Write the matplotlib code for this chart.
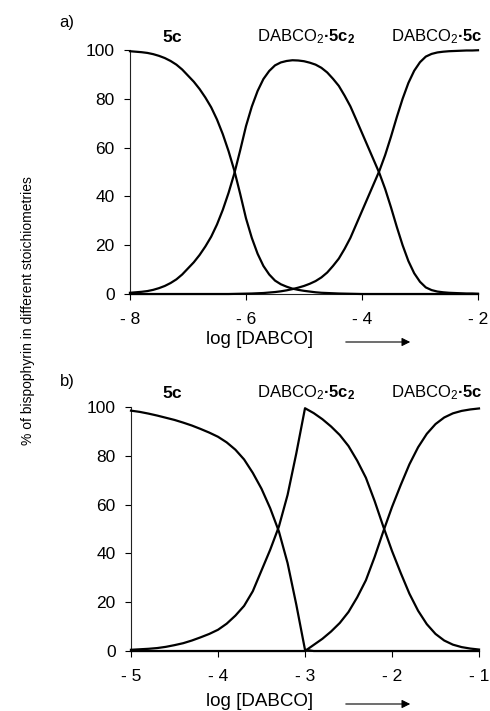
import numpy as np
import matplotlib
matplotlib.use('Agg')
import matplotlib.pyplot as plt

plt.rcParams['font.family'] = ['Liberation Sans', 'DejaVu Sans']
plt.rcParams['mathtext.fontset'] = 'custom'
plt.rcParams['mathtext.rm'] = 'Liberation Sans'
plt.rcParams['mathtext.it'] = 'Liberation Sans:italic'
plt.rcParams['mathtext.bf'] = 'Liberation Sans:bold'

# a) log[DABCO] from -8 to -2
log_a = [-8.0, -7.9, -7.8, -7.7, -7.6, -7.5, -7.4, -7.3, -7.2, -7.1,
         -7.0, -6.9, -6.8, -6.7, -6.6, -6.5, -6.4, -6.3, -6.2, -6.1,
         -6.0, -5.9, -5.8, -5.7, -5.6, -5.5, -5.4, -5.3, -5.2, -5.1,
         -5.0, -4.9, -4.8, -4.7, -4.6, -4.5, -4.4, -4.3, -4.2, -4.1,
         -4.0, -3.9, -3.8, -3.7, -3.6, -3.5, -3.4, -3.3, -3.2, -3.1,
         -3.0, -2.9, -2.8, -2.7, -2.6, -2.5, -2.4, -2.3, -2.2, -2.1, -2.0]
free_a = [99.5, 99.3, 99.1, 98.8, 98.3, 97.6, 96.7, 95.5, 94.0, 92.0,
          89.5, 87, 84, 80.5, 76.5, 71.5, 65.5, 58.5, 50.5, 41,
          31, 23, 16.5, 11.5, 8, 5.5, 4, 3, 2.2, 1.7,
          1.3, 1.0, 0.7, 0.5, 0.4, 0.3, 0.2, 0.15, 0.1, 0.05,
          0, 0, 0, 0, 0, 0, 0, 0, 0, 0,
          0, 0, 0, 0, 0, 0, 0, 0, 0, 0, 0]
dimer_a = [0.5, 0.7, 0.9, 1.2, 1.7, 2.4, 3.3, 4.5, 6.0, 8.0,
           10.5, 13, 16, 19.5, 23.5, 28.5, 34.5, 41.5, 49.5, 58.9,
           68.8, 76.8, 83.2, 88.1, 91.4, 93.7, 94.9, 95.5, 95.8, 95.7,
           95.4, 94.8, 94, 92.7, 90.8, 88.2, 85.3, 81.3, 76.9, 71.5,
           66, 60.5, 55, 49.5, 43, 35.5, 27.5, 20, 13.5, 8.5,
           5, 2.7, 1.6, 1.0, 0.7, 0.5, 0.4, 0.3, 0.2, 0.2, 0.1]
mono_a = [0, 0, 0, 0, 0, 0, 0, 0, 0, 0,
          0, 0, 0, 0, 0, 0, 0, 0, 0.05, 0.1,
          0.15, 0.2, 0.3, 0.4, 0.6, 0.8, 1.1, 1.5, 2.0, 2.6,
          3.3, 4.2, 5.3, 6.8, 8.8, 11.5, 14.5, 18.5, 23, 28.5,
          34, 39.5, 45, 50.5, 57, 64.5, 72.5, 80, 86.5, 91.5,
          95, 97.3, 98.4, 99, 99.3, 99.5, 99.6, 99.7, 99.8, 99.8, 99.9]

# b) log[DABCO] from -5 to -1
log_b = [-5.0, -4.9, -4.8, -4.7, -4.6, -4.5, -4.4, -4.3, -4.2, -4.1, -4.0,
         -3.9, -3.8, -3.7, -3.6, -3.5, -3.4, -3.3, -3.2, -3.1, -3.0,
         -2.9, -2.8, -2.7, -2.6, -2.5, -2.4, -2.3, -2.2, -2.1, -2.0,
         -1.9, -1.8, -1.7, -1.6, -1.5, -1.4, -1.3, -1.2, -1.1, -1.0]
free_b = [98.5, 98.0, 97.3, 96.5, 95.6, 94.7, 93.6, 92.4, 91, 89.5, 87.8,
          85.5, 82.5, 78.5, 73, 66.5, 58.5, 49, 36, 19, 0.5,
          0, 0, 0, 0, 0, 0, 0, 0, 0, 0,
          0, 0, 0, 0, 0, 0, 0, 0, 0, 0]
dimer_b = [0.5, 0.7, 0.9, 1.2, 1.7, 2.4, 3.2, 4.3, 5.6, 7, 8.7,
           11.2, 14.5, 18.5, 24.5, 33, 41.5, 51, 64, 81, 99.5,
           97.5, 95, 92, 88.5, 84, 78, 71, 61.5, 51, 41,
           32, 23.5, 16.5, 11, 7, 4.3, 2.6, 1.6, 1.0, 0.6]
mono_b = [0, 0, 0, 0, 0, 0, 0, 0, 0, 0, 0,
          0, 0, 0, 0, 0, 0, 0, 0, 0, 0,
          2.5, 5, 8, 11.5, 16, 22, 29, 38.5, 49, 59,
          68, 76.5, 83.5, 89, 93, 95.7, 97.4, 98.4, 99, 99.4]

yticks = [0, 20, 40, 60, 80, 100]
xticks_a = [-8, -6, -4, -2]
xlabels_a = ['- 8', '- 6', '- 4', '- 2']
xticks_b = [-5, -4, -3, -2, -1]
xlabels_b = ['- 5', '- 4', '- 3', '- 2', '- 1']

species = [r'$\mathbf{5c}$', r'DABCO$_2$$\mathbf{·5c_2}$', r'DABCO$_2$$\mathbf{·5c}$']

W, H = 490, 711
fig = plt.figure(figsize=(W / 100, H / 100), dpi=100)


def px(x, y):
    return x / W, 1 - y / H


def panel(rect, xs, curves, ticks, labels, letter, letter_y, title_y, arrow_y, label_y):
    ax = fig.add_axes(rect)
    for c in curves:
        ax.plot(xs, c, color='black', lw=1.6, clip_on=False, zorder=3,
                solid_joinstyle='round')
    ax.set_xlim(ticks[0], ticks[-1])
    ax.set_ylim(0, 100)
    ax.set_xticks(ticks)
    ax.set_xticklabels(labels)
    ax.set_yticks(yticks)
    for s in ['top', 'right']:
        ax.spines[s].set_visible(False)
    for s in ['left', 'bottom']:
        ax.spines[s].set_linewidth(0.8)
        ax.spines[s].set_color('#222222')
    ax.tick_params(axis='x', direction='out', length=4, width=0.8, pad=9, labelsize=12.5)
    ax.tick_params(axis='y', direction='out', length=4, width=0.8, pad=7, labelsize=12.5)

    fig.text(*px(67, letter_y), letter, fontsize=12, ha='center', va='center')
    fig.text(*px(172, title_y), species[0], fontsize=12.5, ha='center', va='center')
    fig.text(*px(306, title_y), species[1], fontsize=12, ha='center', va='center')
    fig.text(*px(437, title_y), species[2], fontsize=12, ha='center', va='center')
    fig.text(*px(260, label_y), 'log [DABCO]', fontsize=13.5, ha='center', va='center')
    fig.add_artist(matplotlib.patches.FancyArrowPatch(
        px(343, arrow_y), px(413, arrow_y), transform=fig.transFigure,
        arrowstyle='-|>,head_length=5,head_width=2.5', color='black', lw=0.8))
    return ax


panel([130 / W, 1 - 294 / H, 348 / W, 244 / H], log_a, [free_a, dimer_a, mono_a],
      xticks_a, xlabels_a, 'a)', 22, 37, 342, 340)
panel([131 / W, 1 - 651 / H, 348 / W, 244 / H], log_b, [free_b, dimer_b, mono_b],
      xticks_b, xlabels_b, 'b)', 382, 393, 704, 702)

fig.text(*px(28, 311), '% of bispophyrin in different stoichiometries', fontsize=10,
         rotation=90, ha='center', va='center')

fig.savefig('out.png', dpi=100)
